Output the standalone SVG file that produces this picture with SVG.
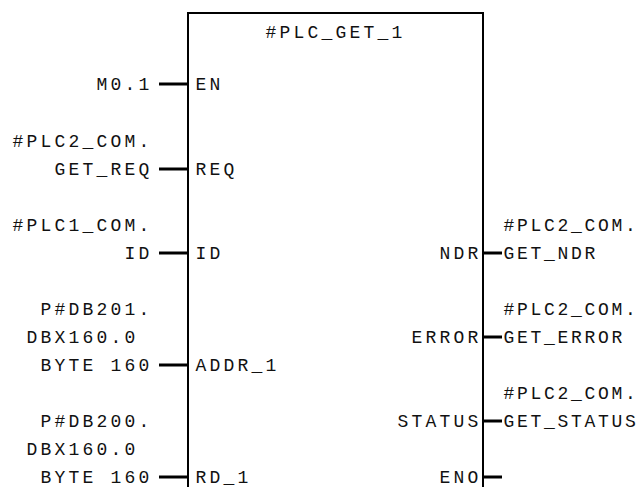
<svg xmlns="http://www.w3.org/2000/svg" width="641" height="487" viewBox="0 0 641 487">
<style>
text{font-family:"Liberation Mono","DejaVu Sans Mono",monospace;font-size:18px;letter-spacing:3.2px;fill:#111;}
.r{letter-spacing:2.7px;}
.box{fill:#fff;stroke:#000;stroke-width:2;}
.wire{stroke:#000;stroke-width:3;fill:none;}
</style>
<rect width="641" height="487" fill="#fff"/>
<g id="block">
<rect class="box" x="188" y="13" width="295" height="490"/>
<text x="265.6" y="38">#PLC_GET_1</text>
</g>
<g id="pins-in">
<text x="195.6" y="90">EN</text>
<text x="195.6" y="175">REQ</text>
<text x="195.6" y="259">ID</text>
<text x="195.6" y="371">ADDR_1</text>
<text x="195.6" y="483">RD_1</text>
</g>
<g id="pins-out">
<text x="439.6" y="259">NDR</text>
<text x="411.6" y="343">ERROR</text>
<text x="397.6" y="427">STATUS</text>
<text x="439.6" y="483">ENO</text>
</g>
<g id="params-in">
<text x="96.6" y="90">M0.1</text>
<text x="12.6" y="147">#PLC2_COM.</text>
<text x="54.6" y="175">GET_REQ</text>
<text x="12.6" y="231">#PLC1_COM.</text>
<text x="124.6" y="259">ID</text>
<text x="40.6" y="315">P#DB201.</text>
<text x="26.6" y="343">DBX160.0</text>
<text x="40.6" y="371">BYTE 160</text>
<text x="40.6" y="427">P#DB200.</text>
<text x="26.6" y="455">DBX160.0</text>
<text x="40.6" y="483">BYTE 160</text>
</g>
<g id="params-out">
<text class="r" x="503.5" y="231">#PLC2_COM.</text>
<text class="r" x="503.5" y="259">GET_NDR</text>
<text class="r" x="503.5" y="315">#PLC2_COM.</text>
<text class="r" x="503.5" y="343">GET_ERROR</text>
<text class="r" x="503.5" y="399">#PLC2_COM.</text>
<text class="r" x="503.5" y="427">GET_STATUS</text>
</g>
<g id="connectors">
<line class="wire" x1="159" y1="84" x2="188" y2="84"/>
<line class="wire" x1="159" y1="169" x2="188" y2="169"/>
<line class="wire" x1="159" y1="253" x2="188" y2="253"/>
<line class="wire" x1="159" y1="365" x2="188" y2="365"/>
<line class="wire" x1="159" y1="477" x2="188" y2="477"/>
<line class="wire" x1="483" y1="253" x2="502" y2="253"/>
<line class="wire" x1="483" y1="337" x2="502" y2="337"/>
<line class="wire" x1="483" y1="421" x2="502" y2="421"/>
<line class="wire" x1="483" y1="477" x2="502" y2="477"/>
</g>
</svg>
